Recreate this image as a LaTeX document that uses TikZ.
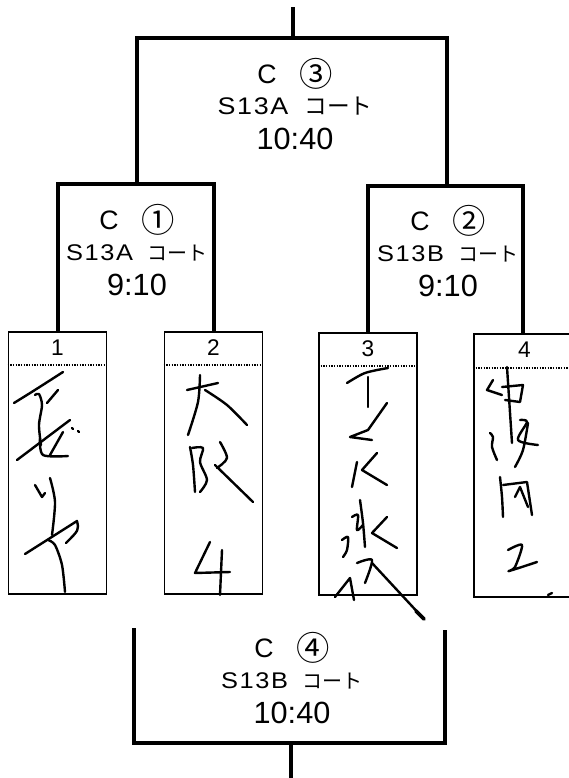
\documentclass[tikz,border=0pt]{standalone}
\usepackage{fontspec}
\setmainfont{Liberation Sans}
\newfontfamily\jpfont{Noto Sans CJK JP}
\newfontfamily\spacedfamily[LetterSpace=7, FakeStretch=1.12]{Liberation Sans}
\usetikzlibrary{positioning}
\newcommand{\headfont}{\fontsize{20}{26}\selectfont}
\newcommand{\circfont}{\jpfont\fontsize{25}{26}\selectfont}
\newcommand{\courtfont}{\spacedfamily\fontsize{17}{26}\selectfont}
\newcommand{\kanafont}{\jpfont\fontsize{15}{26}\selectfont}
\newcommand{\timefont}{\fontsize{23}{26}\selectfont}
\tikzset{
    bracket-line/.style = {line width=3pt},
    team-box/.style = {draw, line width=1.4pt, rectangle, minimum width=73.5pt, minimum height=197pt, inner sep=0pt},
    team-no/.style = {inner sep=0pt, font=\fontsize{17}{20}\selectfont},
    dot-line/.style = {line width=1.5pt, dash pattern=on 1pt off 1pt},
    match-label/.style = {align=center, inner sep=0pt, font=\fontsize{20}{26}\selectfont},
    hand-stroke/.style = {line width=1.8pt, line cap=round, line join=round},
}

\begin{document}
\begin{tikzpicture}[x=0.75pt, y=-0.75pt]
\useasboundingbox (0,0) rectangle (568,778);

% team slots
\node[team-box] (t1) at (57.5,463) {};
\node[team-box] (t2) at (213.5,463) {};
\node[team-box] (t3) at (368,464) {};
\node[team-box, minimum width=76pt] (t4) at (524.5,465.5) {};

\node[team-no, below=6.5pt of t1.north] (n1) {1};
\node[team-no, below=6.5pt of t2.north] (n2) {2};
\node[team-no, below=6.5pt of t3.north] (n3) {3};
\node[team-no, below=6.5pt of t4.north] (n4) {4};

\draw[dot-line] ([yshift=-26pt]t1.north west) -- ([yshift=-26pt]t1.north east);
\draw[dot-line] ([yshift=-26pt]t2.north west) -- ([yshift=-26pt]t2.north east);
\draw[dot-line] ([yshift=-26pt]t3.north west) -- ([yshift=-26pt]t3.north east);
\draw[dot-line] ([yshift=-26pt]t4.north west) -- ([yshift=-26pt]t4.north east);

% brackets
\coordinate (m1-bar) at (137,184);
\coordinate (m2-bar) at (447,186);
\coordinate (win) at (293,38);
\coordinate (win-out) at (293,7);
\coordinate (lose-l) at (134,628);
\coordinate (lose-r) at (445,630);
\coordinate (lose) at (291,743);
\coordinate (lose-out) at (291,778);

\draw[bracket-line] (t1.north) |- (m1-bar) -| (t2.north);
\draw[bracket-line] (t3.north) |- (m2-bar) -| ([xshift=-1.5pt]t4.north);
\draw[bracket-line] (m1-bar) |- (win) -| (m2-bar);
\draw[bracket-line] (win) -- (win-out);
\draw[bracket-line] (lose-l) |- (lose) -| (lose-r);
\draw[bracket-line] (lose) -- (lose-out);

% match labels
\node[match-label] (m1) at (137,250) {{\headfont C\hspace{0.85em}\raisebox{-2pt}{\circfont ①}}\\[-3pt]{\courtfont S13A}\hspace{0.55em}{\kanafont コート}\\{\timefont 9:10}};
\node[match-label] (m2) at (448,251) {{\headfont C\hspace{0.85em}\raisebox{-2pt}{\circfont ②}}\\[-3pt]{\courtfont S13B}\hspace{0.55em}{\kanafont コート}\\{\timefont 9:10}};
\node[match-label] (m3) at (295,104) {{\headfont C\hspace{0.85em}\raisebox{-2pt}{\circfont ③}}\\[-3pt]{\courtfont\fontsize{18}{26}\selectfont S13A}\hspace{0.6em}{\kanafont\fontsize{17}{26}\selectfont コート}\\{\timefont 10:40}};
\node[match-label] (m4) at (292,678) {{\headfont C\hspace{0.85em}\raisebox{-2pt}{\circfont ④}}\\[-3pt]{\courtfont S13B}\hspace{0.55em}{\kanafont コート}\\{\timefont 10:40}};

% handwritten names
\draw[hand-stroke] (14,403) .. controls (35,390) .. (63,372);
\draw[hand-stroke] (47,403) -- (58,390);
\draw[hand-stroke] plot[smooth] coordinates {(35,395) (39,394) (42,405) (39,425) (41,445)};
\draw[hand-stroke] (17,460) -- (70,420);
\draw[hand-stroke] plot[smooth] coordinates {(40,438) (43,455) (68,456)};
\draw[hand-stroke] (50,455) -- (63,432);
\draw[hand-stroke] (72,428) -- (73,429) (78,431) -- (79,432);
\draw[hand-stroke] (35,485) -- (42,497) -- (45,493);
\draw[hand-stroke] plot[smooth] coordinates {(50,478) (55,502) (52,535)};
\draw[hand-stroke] (25,554) -- (77,521) .. controls (79,530) .. (66,543);
\draw[hand-stroke] plot[smooth] coordinates {(48,540) (55,545) (62,565) (65,592)};

\draw[hand-stroke] (187,390) -- (218,383);
\draw[hand-stroke] plot[smooth] coordinates {(200,375) (198,402) (188,435)};
\draw[hand-stroke] plot[smooth] coordinates {(205,390) (227,405) (247,425)};
\draw[hand-stroke] plot[smooth] coordinates {(190,447) (193,465) (195,492)};
\draw[hand-stroke] plot[smooth] coordinates {(192,448) (203,448) (200,462) (207,480) (200,492)};
\draw[hand-stroke] plot[smooth] coordinates {(220,442) (227,458) (217,468)};
\draw[hand-stroke] (215,465) -- (253,502);
\draw[hand-stroke] (210,542) -- (195,573) -- (230,572);
\draw[hand-stroke] (222,550) -- (220,595);

\draw[hand-stroke] plot[smooth] coordinates {(347,383) (365,373) (388,368)};
\draw[hand-stroke] (368,377) -- (368,407);
\draw[hand-stroke] (387,403) -- (368,430) -- (350,437) -- (372,440);
\draw[hand-stroke] (357,462) -- (352,487);
\draw[hand-stroke] (377,453) -- (362,470) -- (387,485);
\draw[hand-stroke] plot[smooth] coordinates {(360,500) (363,523) (365,547)};
\draw[hand-stroke] plot[smooth] coordinates {(352,517) (358,515) (357,530) (363,525)};
\draw[hand-stroke] (387,517) -- (372,533) -- (397,548);
\draw[hand-stroke] plot[smooth] coordinates {(342,540) (348,537) (347,550) (343,557)};
\draw[hand-stroke] (335,597) -- (350,578) -- (354,600);
\draw[hand-stroke] plot[smooth] coordinates {(357,563) (372,560) (365,583)};
\draw[hand-stroke] (372,563) -- (423,618);
\draw[line width=2.8pt, line cap=round] (416,611) -- (424,619);

\draw[hand-stroke] (507,367) -- (512,443);
\draw[hand-stroke] (493,380) -- (487,390) -- (502,395);
\draw[hand-stroke] (502,387) -- (523,385) -- (520,402) -- (505,400);
\draw[hand-stroke] plot[smooth] coordinates {(490,433) (493,437) (492,447) (497,460)};
\draw[hand-stroke] plot[smooth] coordinates {(520,420) (527,422) (518,440) (538,445)};
\draw[hand-stroke] plot[smooth] coordinates {(528,423) (523,450) (515,467)};
\draw[hand-stroke] plot[smooth] coordinates {(500,477) (502,497) (503,517)};
\draw[hand-stroke] (503,485) -- (527,482) -- (532,515);
\draw[hand-stroke] (515,497) -- (520,487) -- (528,507);
\draw[hand-stroke] plot[smooth] coordinates {(508,550) (522,545) (515,567) (509,571) (537,562)};
\draw[hand-stroke] (548,595) -- (552,593);
\end{tikzpicture}
\end{document}
